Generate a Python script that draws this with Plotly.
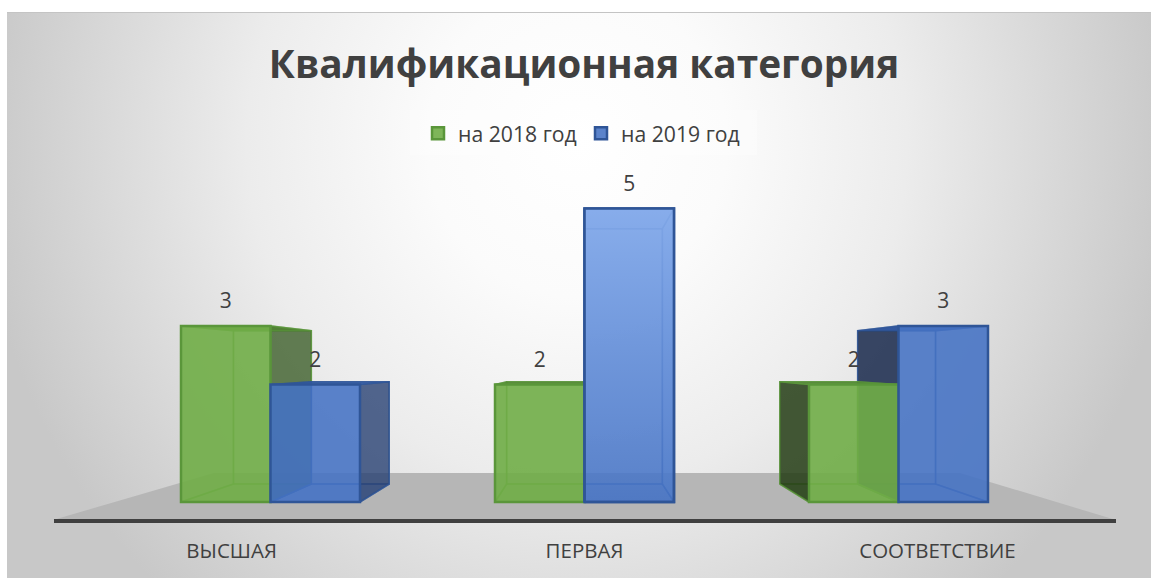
import base64
import plotly.graph_objects as go

categories = ["ВЫСШАЯ", "ПЕРВАЯ", "СООТВЕТСТВИЕ"]
values_2018 = [3, 2, 2]
values_2019 = [2, 5, 3]
series_names = ["на 2018 год", "на 2019 год"]
title_text = "Квалификационная категория"

W, H = 1151, 578
B = 50
PLOT_H = H - B
X0, XU = 270.5, 314.0   # px of category 0, px per category
Y0, YU = 502.0, 58.7    # px of value 0, px per unit
BAR = 0.285
VX, VY, S = 1.0, 2.36, 0.87  # vanishing point & depth scale
LABEL_SPREAD = 1.124         # category labels sit on the projected front plane

def dx(px): return (px - X0) / XU
def dy(py): return (Y0 - py) / YU
def back(x, y): return VX + S * (x - VX), VY + S * (y - VY)

x_range = [dx(0), dx(W)]
y_range = [dy(PLOT_H), dy(0)]

svg = '''<svg xmlns="http://www.w3.org/2000/svg" width="1144" height="566">
<defs><radialGradient id="g" gradientUnits="userSpaceOnUse" cx="0" cy="0" r="1"
 gradientTransform="translate(570,130) scale(600,620)">
<stop offset="0" stop-color="#ffffff"/><stop offset="0.25" stop-color="#fbfbfb"/>
<stop offset="0.55" stop-color="#ececec"/><stop offset="0.75" stop-color="#dcdcdc"/>
<stop offset="1" stop-color="#c8c8c8"/></radialGradient></defs>
<rect width="1144" height="566" fill="url(#g)"/></svg>'''
bg = "data:image/svg+xml;base64," + base64.b64encode(svg.encode()).decode()

GREEN = dict(front="rgba(112,173,71,0.9)", edge="#5a963a", thin="rgba(90,150,58,0.7)")
BLUE = dict(front="rgba(68,114,196,0.88)", edge="#2f5597", thin="rgba(47,85,151,0.7)")

FACES = {
    "g": [
        dict(l="rgba(112,173,71,0.05)", r="rgba(50,85,30,0.75)", t="rgba(80,130,50,0.9)", b="rgba(130,190,90,0.25)"),
        dict(l="rgba(112,173,71,0.10)", r="rgba(112,173,71,0.10)", t="rgba(80,130,50,0.9)", b="rgba(130,190,90,0.25)"),
        dict(l="rgba(35,60,20,0.85)", r="rgba(112,173,71,0.05)", t="rgba(80,130,50,0.9)", b="rgba(130,190,90,0.25)"),
    ],
    "b": [
        dict(l="rgba(68,114,196,0.05)", r="rgba(40,65,115,0.80)", t="rgba(50,90,165,0.9)", b="rgba(100,140,220,0.25)"),
        dict(l="rgba(68,114,196,0.05)", r="rgba(150,190,255,0.25)", t="rgba(150,190,255,0.35)", b="rgba(100,140,220,0.25)"),
        dict(l="rgba(30,45,80,0.88)", r="rgba(68,114,196,0.05)", t="rgba(50,90,165,0.9)", b="rgba(100,140,220,0.25)"),
    ],
}

fig = go.Figure()

def face(pts, fill, line):
    xs = [p[0] for p in pts] + [pts[0][0]]
    ys = [p[1] for p in pts] + [pts[0][1]]
    fig.add_trace(go.Scatter(x=xs, y=ys, mode="lines", fill="toself", fillcolor=fill,
                             line=dict(color=line, width=1.5), hoverinfo="skip",
                             showlegend=False, xaxis="x", yaxis="y"))

def cuboid(x0, x1, v, st, pal):
    fl, fr = (x0, 0), (x1, 0)
    tl, tr = (x0, v), (x1, v)
    bl, br = back(x0, 0), back(x1, 0)
    ul, ur = back(x0, v), back(x1, v)
    face([bl, br, ur, ul], "rgba(0,0,0,0)", pal["thin"])
    face([fl, fr, br, bl], st["b"], pal["thin"])
    face([fl, bl, ul, tl], st["l"], pal["thin"])
    face([fr, br, ur, tr], st["r"], pal["thin"])
    face([tl, tr, ur, ul], st["t"], pal["thin"])

def bar_span(i, series):
    return (i - BAR, i) if series == 0 else (i, i + BAR)

all_vals = [values_2018, values_2019]
# outer cuboid of each group goes first, so the inner one overlaps it
for s, i in [(0, 0), (0, 1), (1, 2), (1, 0), (1, 1), (0, 2)]:
    x0, x1 = bar_span(i, s)
    cuboid(x0, x1, all_vals[s][i], FACES["gb"[s]][i], [GREEN, BLUE][s])

for s in (0, 1):
    pal = [GREEN, BLUE][s]
    fig.add_trace(go.Bar(
        name=series_names[s], x=list(range(3)), y=all_vals[s], width=BAR,
        offset=-BAR if s == 0 else 0,
        marker=dict(color=pal["front"], line=dict(color=pal["edge"], width=2.5)),
        xaxis="x2", yaxis="y2"))

# glossy light on the tall centre bar
x0, x1 = bar_span(1, 1)
v = values_2019[1]
fig.add_trace(go.Scatter(
    x=[x0, x1, x1, x0, x0], y=[0, 0, v, v, 0], mode="lines", fill="toself",
    line=dict(color=BLUE["edge"], width=2.5),
    fillgradient=dict(type="vertical", colorscale=[[0, "rgba(150,190,255,0)"], [1, "rgba(165,200,255,0.62)"]]),
    hoverinfo="skip", showlegend=False, xaxis="x2", yaxis="y2"))

LABEL_GAP = 0.39
for s in (0, 1):
    off = -BAR / 2 if s == 0 else BAR / 2
    fig.add_trace(go.Scatter(
        x=[i + off for i in range(3)], y=[v + LABEL_GAP for v in all_vals[s]],
        mode="text", text=[str(v) for v in all_vals[s]], showlegend=False, hoverinfo="skip",
        textfont=dict(family="Open Sans", size=21, color="#404040"), xaxis="x2", yaxis="y2"))

fig.update_layout(
    width=W, height=H, autosize=False,
    margin=dict(l=0, r=0, t=0, b=B, pad=0),
    paper_bgcolor="#ffffff", plot_bgcolor="rgba(0,0,0,0)",
    barmode="overlay",
    showlegend=True,
    title=dict(text=f"<b>{title_text}</b>", x=584 / W, xanchor="center", y=1 - 64 / H, yanchor="middle",
               font=dict(family="Open Sans", size=38.8, color="#404040")),
    legend=dict(orientation="h", x=418 / W, xanchor="left", y=1 - 113 / PLOT_H, yanchor="top",
                bgcolor="rgba(0,0,0,0)", font=dict(family="Open Sans", size=21.2, color="#404040"),
                entrywidth=118, entrywidthmode="pixels", itemclick=False, itemdoubleclick=False),
    xaxis=dict(range=x_range, tickmode="array",
               tickvals=[VX + (i - VX) * LABEL_SPREAD for i in range(3)], ticktext=categories,
               showgrid=False, zeroline=False, showline=False, ticks="",
               ticklabelstandoff=8, tickfont=dict(family="Open Sans", size=20.5, color="#404040")),
    yaxis=dict(range=y_range, visible=False, showgrid=False, zeroline=False),
    xaxis2=dict(range=x_range, overlaying="x", visible=False),
    yaxis2=dict(range=y_range, overlaying="y", visible=False),
    images=[dict(source=bg, xref="paper", yref="paper", x=7 / W, y=1 - 12 / PLOT_H,
                 sizex=1144 / W, sizey=566 / PLOT_H, xanchor="left", yanchor="top",
                 sizing="stretch", layer="below")],
    shapes=[
        dict(type="rect", xref="paper", yref="paper", x0=410 / W, x1=757 / W,
             y0=1 - 155 / PLOT_H, y1=1 - 110 / PLOT_H, fillcolor="rgba(255,255,255,0.3)",
             line_width=0, layer="below"),
        dict(type="path", xref="x", yref="y", layer="below", fillcolor="#b6b6b6", line_width=0,
             path=f"M{dx(53)},{dy(520)} L{dx(214)},{dy(473)} L{dx(960)},{dy(473)} L{dx(1116)},{dy(520)} Z"),
        dict(type="line", xref="x", yref="y", x0=dx(54), x1=dx(1116), y0=dy(521), y1=dy(521),
             line=dict(color="#404040", width=4), layer="below"),
        dict(type="line", xref="paper", yref="paper", x0=7 / W, x1=1, y0=1 - 12.5 / PLOT_H, y1=1 - 12.5 / PLOT_H,
             line=dict(color="#c4c4c4", width=1), layer="below"),
    ],
)

fig.write_html("out.html", config=dict(displayModeBar=False),
               post_script="document.body.style.margin='0';document.body.style.overflow='hidden';")
